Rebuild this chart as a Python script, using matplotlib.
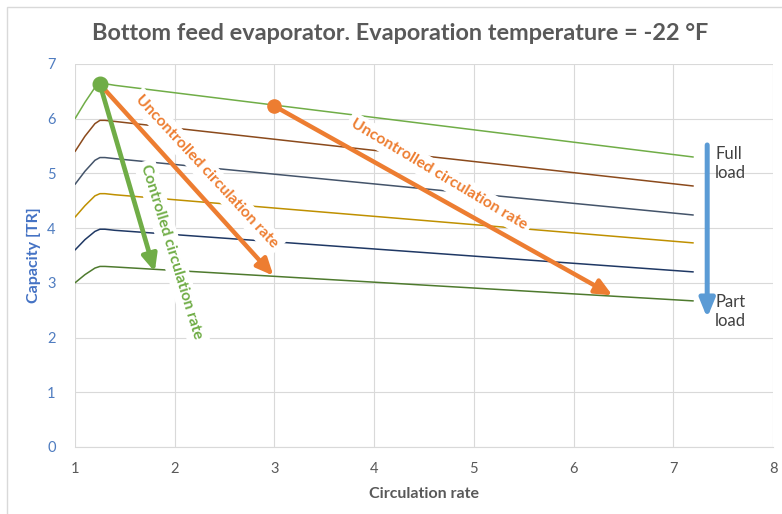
import matplotlib.pyplot as plt
from matplotlib.patches import Rectangle

# circulation rate points used for every load curve
rate = [1.0, 1.1, 1.2, 1.25, 1.3, 1.4, 7.2]

# capacity [TR], from full load (top) to part load (bottom)
cap_1 = [6.00, 6.30, 6.57, 6.64, 6.64, 6.61, 5.30]
cap_2 = [5.40, 5.68, 5.91, 5.97, 5.97, 5.95, 4.77]
cap_3 = [4.80, 5.04, 5.24, 5.29, 5.29, 5.27, 4.24]
cap_4 = [4.20, 4.41, 4.59, 4.63, 4.63, 4.61, 3.73]
cap_5 = [3.60, 3.79, 3.94, 3.98, 3.98, 3.96, 3.20]
cap_6 = [3.00, 3.15, 3.27, 3.30, 3.30, 3.29, 2.67]
curves = [cap_1, cap_2, cap_3, cap_4, cap_5, cap_6]
curve_colors = ["#70AD47", "#8B4A1C", "#44546A", "#BF9000", "#1F3864", "#4E7A2E"]

# annotation arrows (start, end)
ctrl_arrow = [(1.25, 6.63), (1.80, 3.20)]
unctrl_arrow1 = [(1.25, 6.63), (2.99, 3.13)]
unctrl_arrow2 = [(3.00, 6.23), (6.39, 2.77)]
load_arrow = [(7.34, 5.52), (7.34, 2.36)]

x_ticks = [1, 2, 3, 4, 5, 6, 7, 8]
y_ticks = [0, 1, 2, 3, 4, 5, 6, 7]

FONT = "Lato"
GREEN = "#70AD47"
ORANGE = "#ED7D31"
BLUE = "#5B9BD5"
GRAY = "#595959"

fig = plt.figure(figsize=(7.82, 5.14), dpi=100)
ax = fig.add_axes([0.0959, 0.1304, 0.8926, 0.7451])
fig.patches.append(Rectangle((0.009, -0.01), 1.0, 0.997, transform=fig.transFigure,
                             fill=False, edgecolor="#D9D9D9", lw=1))

for ys, c in zip(curves, curve_colors):
    ax.plot(rate, ys, color=c, lw=1.1, zorder=2, solid_capstyle="round")

def arrow(pts, color, lw, head):
    ax.annotate("", xy=pts[1], xytext=pts[0], zorder=5,
                arrowprops=dict(arrowstyle="-|>,head_length=%s,head_width=%s" % head,
                                color=color, lw=lw, shrinkA=0, shrinkB=0))

arrow(ctrl_arrow, GREEN, 3.4, (1.0, 0.45))
arrow(unctrl_arrow1, ORANGE, 3.2, (1.0, 0.45))
arrow(unctrl_arrow2, ORANGE, 3.2, (1.0, 0.45))
arrow(load_arrow, BLUE, 3.6, (1.1, 0.45))

ax.plot(*ctrl_arrow[0], "o", color=GREEN, ms=10.5, zorder=6)
ax.plot(*unctrl_arrow2[0], "o", color=ORANGE, ms=9.5, zorder=6)

box = dict(facecolor="white", edgecolor="none", pad=3)
ax.text(1.97, 3.56, "Controlled circulation rate", color=GREEN, fontsize=11.2,
        fontweight="bold", family=FONT, rotation=-73, rotation_mode="anchor",
        ha="center", va="center", bbox=box, zorder=3)
ax.text(2.32, 5.03, "Uncontrolled circulation rate", color=ORANGE, fontsize=11.3,
        fontweight="bold", family=FONT, rotation=-47.2, rotation_mode="anchor",
        ha="center", va="center", bbox=box, zorder=3)
ax.text(4.65, 4.98, "Uncontrolled circulation rate", color=ORANGE, fontsize=11.3,
        fontweight="bold", family=FONT, rotation=-30.8, rotation_mode="anchor",
        ha="center", va="center", bbox=box, zorder=3)

ax.text(7.42, 5.50, "Full\nload", color="#404040", fontsize=12, family=FONT,
        ha="left", va="top", linespacing=1.25)
ax.text(7.42, 2.80, "Part\nload", color="#404040", fontsize=12, family=FONT,
        ha="left", va="top", linespacing=1.25)

ax.set_xlim(1, 8)
ax.set_ylim(0, 7)
ax.set_xticks(x_ticks)
ax.set_yticks(y_ticks)
ax.grid(True, color="#D9D9D9", lw=0.8, zorder=0)
ax.set_axisbelow(True)
for s in ["top", "right", "left"]:
    ax.spines[s].set_visible(False)
ax.spines["bottom"].set_color("#D9D9D9")
ax.tick_params(axis="x", length=0, pad=11)
ax.tick_params(axis="y", length=0, pad=14)
for lab in ax.get_xticklabels():
    lab.set_color(GRAY)
    lab.set_fontfamily(FONT)
    lab.set_fontsize(10.5)
for lab in ax.get_yticklabels():
    lab.set_color("#4F7CC0")
    lab.set_fontfamily(FONT)
    lab.set_fontsize(10.5)

ax.set_xlabel("Circulation rate", color=GRAY, fontsize=11.5, fontweight="bold",
              family=FONT, labelpad=8)
ax.set_ylabel("Capacity [TR]", color="#4472C4", fontsize=11.5, fontweight="bold",
              family=FONT, labelpad=4)
fig.text(0.512, 0.935, "Bottom feed evaporator. Evaporation temperature = -22 \u00b0F",
         ha="center", va="center", color=GRAY, fontsize=16.9, fontweight="bold",
         family=FONT)

fig.savefig("out.png", dpi=100)
